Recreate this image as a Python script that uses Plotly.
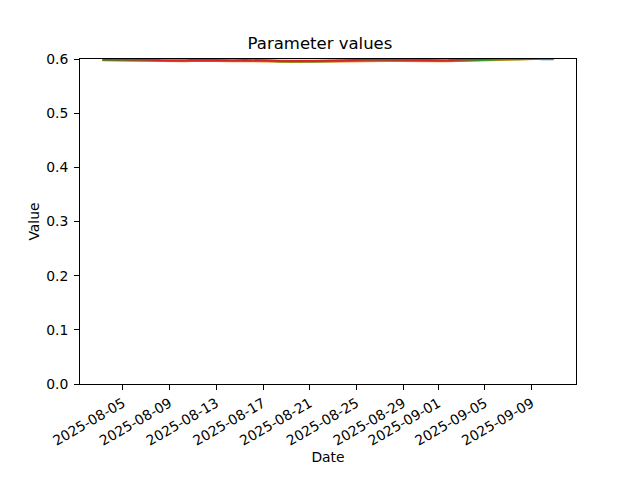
import pandas as pd
import plotly.graph_objects as go

start_time = "2025-08-03 06:00"
end_time = "2025-09-10 21:00"
n_points = 39

series_names = ["param_1", "param_2", "param_3", "param_4"]
series_colors = ["#1f77b4", "#ff7f0e", "#2ca02c", "#d62728"]

blue_vals = [0.6025] * 37 + [0.5996, 0.5996]
orange_vals = [0.5978, 0.5978, 0.5975, 0.5972, 0.5970, 0.5962, 0.5958, 0.5960, 0.5968, 0.5962,
               0.5958, 0.5960, 0.5962, 0.5962, 0.5960, 0.5950, 0.5945, 0.5948, 0.5950, 0.5955,
               0.5960, 0.5965, 0.5968, 0.5968, 0.5965, 0.5962, 0.5965, 0.5962, 0.5960, 0.5958,
               0.5962, 0.5970, 0.5978, 0.5982, 0.5985, 0.5990, 0.5994, 0.6002, 0.6008]
green_vals = [0.5982, 0.5982, 0.5980, 0.5978, 0.5975, 0.5968, 0.5962, 0.5965, 0.5972, 0.5966,
              0.5962, 0.5964, 0.5968, 0.5968, 0.5964, 0.5955, 0.5950, 0.5953, 0.5955, 0.5960,
              0.5966, 0.5972, 0.5975, 0.5975, 0.5972, 0.5968, 0.5972, 0.5968, 0.5965, 0.5962,
              0.5968, 0.5978, 0.5985, 0.5990, 0.5994, 0.5996, 0.5998, 0.6005, 0.6012]
red_vals = [0.5995, 0.5995, 0.5992, 0.5990, 0.5986, 0.5978, 0.5972, 0.5976, 0.5986, 0.5978,
            0.5972, 0.5976, 0.5980, 0.5980, 0.5976, 0.5966, 0.5962, 0.5965, 0.5966, 0.5970,
            0.5976, 0.5986, 0.5990, 0.5990, 0.5986, 0.5982, 0.5990, 0.5986, 0.5982, 0.5978,
            0.5986, 0.5995, 0.6005, 0.6010, 0.6015, 0.6012, 0.6015, 0.6020, 0.6020]
all_vals = [blue_vals, orange_vals, green_vals, red_vals]

tick_dates = ["2025-08-05", "2025-08-09", "2025-08-13", "2025-08-17", "2025-08-21",
              "2025-08-25", "2025-08-29", "2025-09-01", "2025-09-05", "2025-09-09"]
y_ticks = [0.0, 0.1, 0.2, 0.3, 0.4, 0.5, 0.6]

dates = pd.date_range(start=start_time, end=end_time, periods=n_points)

fig = go.Figure()
for name, color, vals in zip(series_names, series_colors, all_vals):
    fig.add_trace(go.Scatter(x=dates, y=vals, mode="lines", name=name,
                             line=dict(color=color, width=2.1)))

font_family = "DejaVu Sans"
fig.update_layout(
    width=640, height=480,
    margin=dict(l=80, r=64, t=59, b=96, autoexpand=False),
    paper_bgcolor="white", plot_bgcolor="white",
    showlegend=False,
    font=dict(family=font_family, size=13.9, color="black"),
    title=dict(text="Parameter values", x=0.5, xanchor="center", y=1 - 43 / 480,
               yanchor="middle", font=dict(size=16.5)),
)
fig.update_xaxes(
    range=["2025-08-01 08:00", "2025-09-12 19:00"],
    tickvals=tick_dates, ticktext=tick_dates, tickangle=-30,
    ticks="outside", ticklen=5, tickwidth=1, tickcolor="black",
    showline=True, linecolor="black", linewidth=1, mirror=True,
    showgrid=False, zeroline=False,
    title=dict(text="Date", standoff=4, font=dict(size=13.9)),
)
fig.update_yaxes(
    range=[0, 0.6], tickvals=y_ticks, ticktext=[f"{v:.1f}" for v in y_ticks],
    ticks="outside", ticklen=5, tickwidth=1, tickcolor="black",
    showline=True, linecolor="black", linewidth=1, mirror=True,
    showgrid=False, zeroline=False, ticklabelstandoff=3,
    title=dict(text="Value", standoff=3, font=dict(size=13.9)),
)

fig.write_html("out.html", post_script="document.body.style.margin='0';",
               config={"displayModeBar": False})
